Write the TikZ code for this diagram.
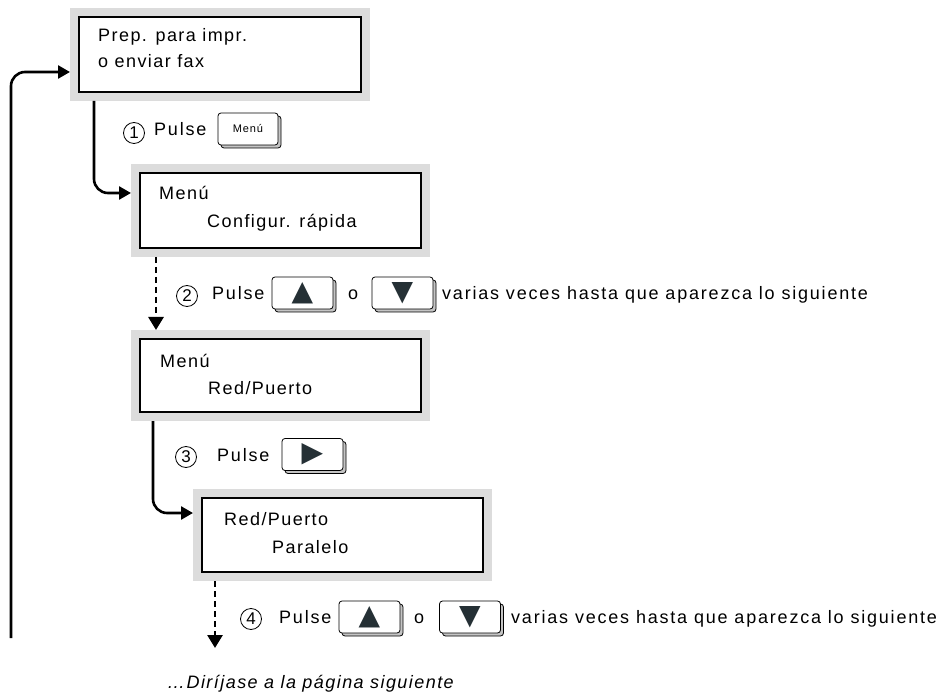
\documentclass[tikz,border=0pt]{standalone}
\usepackage{fontspec}
\setmainfont{Liberation Sans}[LetterSpace=8]
\newfontfamily\stepfont{Liberation Sans}[LetterSpace=10]
\newfontfamily\trifont{DejaVu Sans}
\usetikzlibrary{arrows.meta,calc,shadows}
\definecolor{lcdgray}{HTML}{DCDCDC}
\definecolor{btngray}{HTML}{C4C4C4}
\definecolor{tricol}{HTML}{253035}
\begin{document}
\begin{tikzpicture}[x=1pt,y=-1pt,
  lcd/.style={draw, line width=2pt, fill=white, preaction={draw=lcdgray, line width=18pt}, outer sep=9pt, inner sep=0},
  txt/.style={font=\fontsize{18}{18}\selectfont, inner sep=0, anchor=base west},
  stxt/.style={font=\stepfont\fontsize{18}{18}\selectfont, inner sep=0, anchor=base west},
  conn/.style={line width=2.6pt, -{Triangle[length=12pt,width=13pt]}, rounded corners=14pt},
  dconn/.style={line width=2.8pt, dash pattern=on 6pt off 4pt, -{Triangle[length=13pt,width=15pt]}},
  btn/.style={draw, line width=0.8pt, fill=white, rounded corners=3pt, inner sep=0, minimum width=61pt, minimum height=32pt,
    general shadow={fill=btngray, draw=black, line width=0.8pt, shadow xshift=3pt, shadow yshift=-3pt}},
  tri/.style={btn, font=\trifont\fontsize{28}{28}\selectfont, text=tricol},
  num/.style={circle, draw, line width=0.8pt, minimum size=21pt, inner sep=0, font=\fontsize{17}{17}\selectfont}
]
\useasboundingbox (0,0) rectangle (939,692);

% LCD boxes
\node[lcd, minimum width=282pt, minimum height=75pt] (b1) at (220,54.5) {};
\node[lcd, minimum width=281pt, minimum height=75pt] (b2) at (280.5,210.5) {};
\node[lcd, minimum width=281pt, minimum height=73pt] (b3) at (280.5,375.5) {};
\node[lcd, minimum width=281pt, minimum height=74pt] (b4) at (342.5,535) {};

% box texts
\node[txt] (t1a) at (98,42) {Prep. para impr.};
\node[txt] (t1b) at (98,68) {o enviar fax};
\node[txt] (t2a) at (159,200) {Menú};
\node[txt] (t2b) at (207,228) {Configur. rápida};
\node[txt] (t3a) at (160,367) {Menú};
\node[txt] (t3b) at (208,394) {Red/Puerto};
\node[txt] (t4a) at (224,525) {Red/Puerto};
\node[txt] (t4b) at (272,553) {Paralelo};

% connectors
\coordinate (loopstart) at (11,638);
\draw[conn] (loopstart) |- ($(b1.west)+(0,17.5)$);
\draw[conn] ($(b1.south west)+(24,0)$) |- ($(b2.west)+(0,-17.5)$);
\draw[dconn] ($(b2.south west)+(25,0)$) -- ($(b3.north west)+(25,0)$);
\draw[conn] ($(b3.south west)+(22,0)$) |- ($(b4.west)+(0,-22)$);
\coordinate (d4end) at (215,648);
\draw[dconn] ($(b4.south west)+(22,0)$) -- (d4end);

% step 1
\node[num] (n1) at (134,133) {1};
\node[stxt] (p1) at (154,135.5) {Pulse};
\node[btn, minimum width=60pt, font=\fontsize{11}{11}\selectfont] (k1) at (248,129) {Menú};

% step 2
\node[num] (n2) at (187,296) {2};
\node[stxt] (p2) at (212,299.5) {Pulse};
\node[tri] (k2u) at (302.5,293) {▲};
\node[stxt] (o2) at (348,299.5) {o};
\node[tri] (k2d) at (402.5,293) {▼};
\node[stxt] (v2) at (442,299.5) {varias veces hasta que aparezca lo siguiente};

% step 3
\node[num] (n3) at (186,457) {3};
\node[stxt] (p3) at (217,461) {Pulse};
\node[tri] (k3) at (312.5,454.5) {▶};

% step 4
\node[num] (n4) at (251,619) {4};
\node[stxt] (p4) at (279,623.5) {Pulse};
\node[tri] (k4u) at (369.5,617) {▲};
\node[stxt] (o4) at (414,623.5) {o};
\node[tri] (k4d) at (470,617) {▼};
\node[stxt] (v4) at (511,623.5) {varias veces hasta que aparezca lo siguiente};

% footer
\node[txt, font=\fontsize{18}{18}\selectfont\itshape] (foot) at (167,688) {…Diríjase a la página siguiente};
\end{tikzpicture}
\end{document}
